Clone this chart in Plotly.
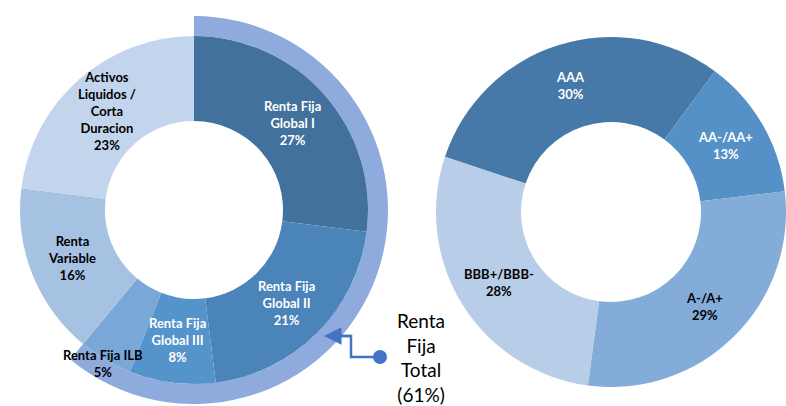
import math
import plotly.graph_objects as go

# ---------------- data ----------------
left_names = ["Renta Fija Global I", "Renta Fija Global II", "Renta Fija Global III",
              "Renta Fija ILB", "Renta Variable", "Activos Liquidos / Corta Duracion"]
left_label_text = ["Renta Fija<br>Global I", "Renta Fija<br>Global II", "Renta Fija<br>Global III",
                   "Renta Fija ILB", "Renta<br>Variable", "Activos<br>Liquidos /<br>Corta<br>Duracion"]
left_values = [27, 21, 8, 5, 16, 23]

ring_names = ["Renta Fija Total", "Resto"]
ring_values = [61, 39]
ring_label = "Renta<br>Fija<br>Total<br>(61%)"

right_names = ["AAA", "AA-/AA+", "A-/A+", "BBB+/BBB-"]
right_values = [30, 13, 29, 28]

# ---------------- styles ----------------
left_colors = ["#41719C", "#4A84B8", "#5593CB", "#79A8D8", "#A6C2E3", "#C3D5EC"]
left_text_colors = ["white", "white", "white", "black", "black", "black"]
left_label_pos = [0.5, 0.5, 0.5, 1.05, 0.5, 0.5]   # radial position between hole and edge
ring_colors = ["#8FAADC", "rgba(0,0,0,0)"]
right_colors = ["#4678A8", "#5590C6", "#84ACD9", "#B8CDE8"]
right_text_colors = ["white", "white", "black", "black"]
right_label_pos = [0.5, 0.5, 0.5, 0.5]

W, H = 786, 406
LCX, LCY, L_R, L_HOLE, RING_R = 194, 210, 174, 89, 194
RCX, RCY, R_R, R_HOLE = 611, 212, 175, 90
LEFT_ROT, RIGHT_ROT = 0, -71.6
ACCENT = "#4472C4"


def dom(cx, cy, r):
    return dict(x=[max(0, (cx - r) / W), min(1, (cx + r) / W)],
                y=[max(0, 1 - (cy + r) / H), min(1, 1 - (cy - r) / H)])


def px(x, y):
    return x / W, 1 - y / H


fig = go.Figure()

fig.add_trace(go.Pie(values=ring_values, labels=ring_names, sort=False, direction="clockwise",
                     rotation=LEFT_ROT, hole=L_R / RING_R, domain=dom(LCX, LCY, RING_R),
                     marker=dict(colors=ring_colors, line=dict(width=0)), textinfo="none",
                     hoverinfo="skip", showlegend=False))
fig.add_trace(go.Pie(values=left_values, labels=left_names, sort=False, direction="clockwise",
                     rotation=LEFT_ROT, hole=L_HOLE / L_R, domain=dom(LCX, LCY, L_R),
                     marker=dict(colors=left_colors, line=dict(width=0)), textinfo="none",
                     hoverinfo="label+percent", showlegend=False))
fig.add_trace(go.Pie(values=right_values, labels=right_names, sort=False, direction="clockwise",
                     rotation=RIGHT_ROT, hole=R_HOLE / R_R, domain=dom(RCX, RCY, R_R),
                     marker=dict(colors=right_colors, line=dict(width=0)), textinfo="none",
                     hoverinfo="label+percent", showlegend=False))

annotations = []


def add_labels(values, texts, tcolors, posf, cx, cy, r_out, r_in, rot):
    total = sum(values)
    cum = 0
    for v, t, c, f in zip(values, texts, tcolors, posf):
        mid = rot + (cum + v / 2) / total * 360
        cum += v
        rr = r_in + f * (r_out - r_in)
        x = cx + rr * math.sin(math.radians(mid))
        y = cy - rr * math.cos(math.radians(mid))
        xp, yp = px(x, y)
        pct = round(v / total * 100)
        annotations.append(dict(x=xp, y=yp, xref="paper", yref="paper", showarrow=False,
                                xanchor="center", yanchor="middle",
                                text=f"{t}<br>{pct}%", align="center",
                                font=dict(family="Lato", size=13, color=c, weight="bold")))


right_label_text = right_names
add_labels(left_values, left_label_text, left_text_colors, left_label_pos,
           LCX, LCY, L_R, L_HOLE, LEFT_ROT)
add_labels(right_values, right_label_text, right_text_colors, right_label_pos,
           RCX, RCY, R_R, R_HOLE, RIGHT_ROT)

# callout for the outer ring
lx, ly = px(421, 357)
annotations.append(dict(x=lx, y=ly, xref="paper", yref="paper", showarrow=False,
                        xanchor="center", yanchor="middle",
                        text=ring_label, align="center",
                        font=dict(family="Lato", size=19, color="black")))
tipx, tipy = px(324, 336)
annotations.append(dict(x=tipx, y=tipy, xref="paper", yref="paper", text="", showarrow=True,
                        ax=28, ay=0, axref="pixel", ayref="pixel", arrowhead=2, arrowsize=1.4,
                        arrowwidth=2.5, arrowcolor=ACCENT))

p1 = px(380, 357)
p2 = px(351, 357)
p3 = px(351, 336)
p4 = px(337, 336)
shapes = [
    dict(type="path", xref="paper", yref="paper",
         path=f"M {p1[0]},{p1[1]} L {p2[0]},{p2[1]} L {p3[0]},{p3[1]} L {p4[0]},{p4[1]}",
         line=dict(color=ACCENT, width=2.5)),
]
c0 = px(373, 350)
c1 = px(387, 364)
shapes.append(dict(type="circle", xref="paper", yref="paper", x0=c0[0], y0=c1[1], x1=c1[0], y1=c0[1],
                   fillcolor=ACCENT, line=dict(color=ACCENT, width=0)))

fig.update_layout(width=W, height=H, margin=dict(l=0, r=0, t=0, b=0),
                  paper_bgcolor="white", plot_bgcolor="white",
                  annotations=annotations, shapes=shapes, showlegend=False)

fig.write_html("out.html")
